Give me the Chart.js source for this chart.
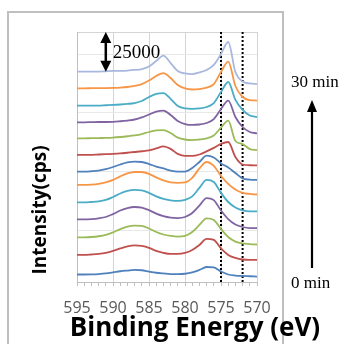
<!DOCTYPE html>
<html>
<head>
<meta charset="utf-8">
<script src="https://cdn.jsdelivr.net/npm/chart.js@4.4.1/dist/chart.umd.min.js"></script>
<style>
  html, body { margin: 0; padding: 0; background: #fff; }
  #wrap { position: relative; width: 344px; height: 344px; }
</style>
</head>
<body>
<div id="wrap"><canvas id="xpsChart" width="344" height="344"></canvas></div>
<script>
// binding energy (eV), one point per eV
const energies = [595,594,593,592,591,590,589,588,587,586,585,584,583,582,581,580,579,578,577,576,575,574,573,572,571,570];

// spectra in k cps above each curve's own baseline, 0 min (bottom) .. 30 min (top)
const s00 = [0,0,0.1,0.3,0.7,1.4,2.2,2.7,3.1,2.9,2,1.2,0.7,0.3,0.3,0.5,1.4,3.1,5.1,4.8,2,0,-0.7,-1,-1.2,-1.4];
const s01 = [0,0,0.3,0.7,1.4,2.7,4.4,5.8,6.5,6.1,4.8,2.7,1.4,0.7,0.7,1.4,3.4,6.8,10.9,10.2,4.4,0,-2,-3.1,-3.4,-3.4];
const s02 = [0,0,0.2,0.7,1.6,3.3,5.6,7.3,8,7.7,6,3.6,1.9,0.9,0.4,0.9,3.6,8.4,12.8,11.8,5.6,0.2,-2.9,-4.2,-4.6,-4.9];
const s03 = [0,0,0.2,0.7,1.6,3.6,6,7.7,8.4,8,6.3,3.9,2.2,1.2,0.9,1.6,4.3,9.4,14.5,13.1,6,0.2,-3.5,-5.2,-5.9,-5.9];
const s04 = [0,0,0.3,0.7,1.7,3.7,6.1,7.8,8.5,8.2,6.5,4.1,2.4,1.4,1,1.7,4.1,9.9,15.3,13.9,6.5,0.3,-3.4,-5.4,-6.1,-6.1];
const s05 = [0,0,0.2,0.7,1.7,3.4,5.8,7.8,8.8,8.8,7.5,5.1,3.1,1.7,1.4,1.7,4.8,11.2,15.6,12.9,6.1,0.7,-3.1,-5.4,-6.1,-6.5];
const s06 = [0,0,0.3,0.8,1.8,3.2,4.9,6.3,6.8,6.6,5.2,3.5,2.2,0.8,0.1,0.1,2.5,6.6,11,9.7,5.6,2.9,-0.9,-4.6,-5.4,-5.6];
const s07 = [0,0,0.1,0.3,0.5,0.7,1,1.5,2,2.5,3.1,4.4,5.8,4.1,0.7,-0.7,-0.7,0.3,2.4,4.8,7.5,8.8,-1.4,-6.5,-7,-7.1];
const s08 = [0,0,0.1,0.2,0.3,0.5,0.9,1.4,2,2.9,4.3,5.4,5.6,3.6,0.5,-0.8,-1.2,-0.8,-0.1,1.9,7.3,12.1,-1.8,-3.9,-7.3,-8];
const s09 = [0,0,0.1,0.2,0.2,0.3,0.7,1.2,1.9,3.3,5.3,7.3,8,5,0.9,-1.2,-1.8,-1.5,-0.5,2.2,9,14.8,3.6,-3.2,-6.6,-7.5];
const s10 = [0,0,0.1,0.1,0.3,0.5,0.8,1.2,1.8,3.2,5.9,8,8.6,4.6,-0.2,-1.9,-2.2,-1.9,-0.9,1.8,9.3,16.1,3.9,-2.9,-6.7,-7.7];
const s11 = [0,0,0.1,0.2,0.2,0.3,0.5,0.9,1.6,2.9,5.3,8.4,10.4,7,2.2,-0.1,-0.8,-0.5,0.5,2.9,11.1,18.2,1.6,-5.9,-8,-8.3];
const s12 = [0,0,0,0.1,0.3,0.5,0.6,0.8,1.2,1.8,3.5,7.3,11,5.9,0.5,-1.2,-1.6,-0.5,1.2,4.6,12,20.2,-0.2,-6.7,-8,-8.4];
const spectra = [s00,s01,s02,s03,s04,s05,s06,s07,s08,s09,s10,s11,s12];

// vertical stacking offset of each spectrum (k cps)
const offsets = [5.1,18.4,30.4,42.6,54.1,66,75,86.4,97.7,108.6,119.9,131.7,143];
const colors = ['#4f81bd','#c0504d','#9bbb59','#8064a2','#4bacc6','#f79646','#4f81bd','#c0504d','#9bbb59','#8064a2','#4bacc6','#f79646','#a9b8de'];

// dotted reference energies (eV)
const markers = [575, 572];
const gridLevels = [0, 35, 75, 115, 155, 170];
const yMin = 0, yMax = 170;
const scaleBar = 25; // 25000 cps

const datasets = spectra.map((s, i) => ({
    data: energies.map((e, j) => ({ x: e, y: s[j] + offsets[i] })),
    borderColor: colors[i],
    borderWidth: 1.8,
    pointRadius: 0,
    cubicInterpolationMode: 'monotone'
}));

markers.forEach(m => {
    datasets.push({
        data: [{ x: m, y: yMin }, { x: m, y: yMax }],
        borderColor: '#000',
        borderWidth: 2,
        borderDash: [2, 2],
        pointRadius: 0
    });
});

function arrowHead(ctx, x, y, dir, w, h) {
    ctx.beginPath();
    ctx.moveTo(x, y);
    ctx.lineTo(x - w / 2, y + dir * h);
    ctx.lineTo(x + w / 2, y + dir * h);
    ctx.closePath();
    ctx.fill();
}

const decorations = {
    id: 'decorations',
    afterDraw(chart) {
        const { ctx, scales: { x, y } } = chart;
        ctx.save();

        // outer frame
        ctx.strokeStyle = '#bfbfbf';
        ctx.lineWidth = 2;
        ctx.beginPath();
        ctx.moveTo(8, 344); ctx.lineTo(8, 12); ctx.lineTo(283, 12); ctx.lineTo(283, 344);
        ctx.stroke();

        // 25000 scale bar
        const bx = x.getPixelForValue(591);
        const bTop = y.getPixelForValue(yMax);
        const bBot = y.getPixelForValue(offsets[offsets.length - 1]);
        ctx.fillStyle = '#000';
        ctx.strokeStyle = '#000';
        ctx.lineWidth = 2.5;
        ctx.beginPath(); ctx.moveTo(bx, bTop + 8); ctx.lineTo(bx, bBot - 8); ctx.stroke();
        arrowHead(ctx, bx, bTop, 1, 11, 11);
        arrowHead(ctx, bx, bBot, -1, 11, 11);
        ctx.font = '19px "Liberation Serif"';
        ctx.textBaseline = 'middle';
        ctx.textAlign = 'left';
        ctx.fillText(String(scaleBar * 1000), bx + 7, (bTop + bBot) / 2 + 1);

        // time arrow
        ctx.font = '17px "Liberation Serif"';
        ctx.fillText('30 min', 291, 83);
        ctx.fillText('0 min', 291, 284);
        ctx.lineWidth = 2.2;
        ctx.beginPath(); ctx.moveTo(312, 268); ctx.lineTo(312, 108); ctx.stroke();
        arrowHead(ctx, 312, 100, 1, 10, 12);

        // axis titles
        ctx.font = 'bold 26px "Open Sans"';
        ctx.textAlign = 'center';
        ctx.textBaseline = 'alphabetic';
        ctx.fillText('Binding Energy (eV)', 195, 336);
        ctx.translate(41, 210);
        ctx.rotate(-Math.PI / 2);
        ctx.font = 'bold 19px "Open Sans"';
        ctx.textBaseline = 'middle';
        ctx.fillText('Intensity(cps)', 0, 0);
        ctx.restore();
    }
};

new Chart(document.getElementById('xpsChart'), {
    type: 'line',
    data: { datasets },
    options: {
        responsive: false,
        animation: false,
        layout: { padding: { left: 77, right: 87, top: 32, bottom: 22 } },
        plugins: { legend: { display: false }, tooltip: { enabled: false } },
        scales: {
            x: {
                type: 'linear',
                reverse: true,
                min: 570,
                max: 595,
                afterFit: s => { s.height = 40; },
                ticks: {
                    stepSize: 1,
                    autoSkip: false,
                    maxRotation: 0,
                    padding: 13,
                    color: '#595959',
                    font: { family: 'Open Sans', size: 16 },
                    callback: v => (v % 5 === 0 ? String(v) : '')
                },
                grid: {
                    color: c => (c.tick && c.tick.value % 5 === 0 ? '#d4d4d4' : 'rgba(0,0,0,0)'),
                    tickColor: '#bfbfbf',
                    tickLength: 4
                },
                border: { color: '#bfbfbf' }
            },
            y: {
                min: yMin,
                max: yMax,
                afterBuildTicks: s => { s.ticks = gridLevels.map(v => ({ value: v })); },
                ticks: { display: false },
                grid: {
                    color: c => (c.tick && c.tick.value === yMax ? '#d4d4d4' : '#e8e8e8'),
                    drawTicks: false
                },
                border: { color: '#bfbfbf' }
            }
        }
    },
    plugins: [decorations]
});
</script>
</body>
</html>
